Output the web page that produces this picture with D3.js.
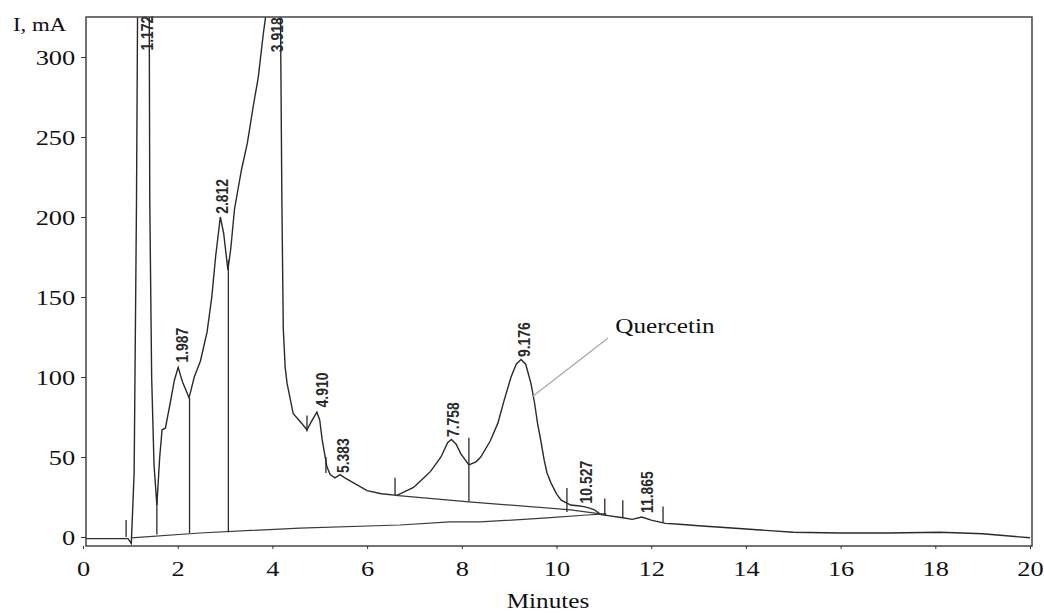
<!DOCTYPE html>
<html>
<head>
<meta charset="utf-8">
<script src="https://cdn.jsdelivr.net/npm/d3@7"></script>
<style>
  body { margin: 0; background: #fff; }
  .axis text { font-family: "Liberation Serif", "Times New Roman", serif; font-size: 22px; fill: #111; }
  .axis path { display: none; }
  .axis line { stroke: #333; }
  .peak { font-family: "Liberation Sans Narrow", "Arial Narrow", "Liberation Sans", sans-serif; font-size: 17px; font-weight: bold; fill: #2a2a2a; }
</style>
</head>
<body>
<script>
let w = 1044;
let h = 616;

// chromatogram trace: minutes, mA
let traceMin = [0, 0.5, 0.95, 1.02, 1.08, 1.13, 1.17, 1.22, 1.3, 1.39, 1.41, 1.45, 1.5, 1.56,
    1.62, 1.67, 1.74, 1.85, 1.93, 2.01, 2.1, 2.24, 2.35, 2.48, 2.62, 2.72, 2.8, 2.9, 2.97, 3.06,
    3.12, 3.2, 3.35, 3.47, 3.6, 3.7, 3.81, 3.88, 3.95, 4.1, 4.17, 4.2, 4.23, 4.27, 4.31, 4.44,
    4.59, 4.73, 4.84, 4.94, 5.0, 5.05, 5.15, 5.22, 5.32, 5.43, 5.53, 6.0, 6.3, 6.63, 6.98, 7.2,
    7.34, 7.56, 7.7, 7.78, 7.88, 7.98, 8.15, 8.3, 8.4, 8.6, 8.76, 8.9, 9.04, 9.15, 9.25, 9.35,
    9.46, 9.53, 9.6, 9.67, 9.74, 9.8, 9.88, 10.0, 10.1, 10.3, 10.45, 10.58, 10.7, 10.8, 10.94,
    11.05, 11.4, 11.6, 11.8, 12.0, 12.3, 12.6, 13.0, 13.7, 14.5, 15.0, 16.0, 17.0, 18.1, 19.0, 20.0];
let traceMa = [-1, -1, -1, -4, 40, 210, 420, 600, 600, 420, 210, 100, 45, 20,
    50, 67, 68, 85, 98, 106, 97, 87, 100, 110, 128, 150, 175, 200, 190, 167,
    180, 205, 230, 246, 270, 287, 315, 330, 420, 420, 330, 210, 130, 106, 96, 77,
    72, 67, 73, 78, 73, 61, 44, 39, 37, 39, 37, 29, 27, 26, 31, 37,
    41, 50, 59, 61, 58, 52, 45, 47, 50, 60, 71, 86, 100, 108, 111, 108,
    96, 85, 71, 60, 48, 40, 34, 27, 23, 20, 19.5, 19, 18, 17, 14,
    13.5, 12, 11, 12.5, 10.5, 8.5, 8, 7, 5.6, 4, 3, 2.5, 2.5, 3, 2, -0.5];

// integration baseline under the big early peaks
let base1Min = [1.02, 2.47, 4.58, 6.69, 7.75, 8.38, 9.8, 10.64, 11.05];
let base1Ma = [-0.6, 2.5, 5.6, 7.5, 9.4, 9.4, 11.9, 13.75, 14.4];

// integration baseline under 7.758 / 9.176
let base2Min = [6.6, 8.15, 10.3, 11.05];
let base2Ma = [26, 22, 17, 14];

// drop lines: minute, top, bottom
let dropMin = [1.56, 2.25, 3.07, 8.15];
let dropTop = [23, 87, 173, 62];
let dropBottom = [1.5, 2.5, 3, 22];

// short event marks: minute, bottom, top
let markMin = [0.91, 4.73, 5.13, 6.59, 10.22, 11.02, 11.4, 12.25];
let markBottom = [0, 66, 40, 26, 15.6, 14, 12, 9];
let markTop = [10.6, 76, 50, 37, 30.6, 24, 23, 19];

// retention time labels: text, minute, mA at label foot
let peakText = ["1.172", "1.987", "2.812", "3.918", "4.910", "5.383", "7.758", "9.176", "10.527", "11.865"];
let peakMin = [1.35, 2.09, 2.93, 4.09, 5.04, 5.49, 7.81, 9.32, 10.63, 11.92];
let peakMa = [304, 109, 202, 303, 81, 40, 62.5, 112.5, 21, 15];

let xTicks = [0, 2, 4, 6, 8, 10, 12, 14, 16, 18, 20];
let yTicks = [0, 50, 100, 150, 200, 250, 300];

let xScale = d3.scaleLinear().domain([0, 20]).range([83, 1030]);
let yScale = d3.scaleLinear().domain([0, 300]).range([537, 57]);

let box = { left: 86, right: 1032, top: 17, bottom: 546 };

let svg = d3.select("body")
    .append("svg")
    .attr("width", w)
    .attr("height", h);

svg.append("rect").attr("width", w).attr("height", h).attr("fill", "#fff");

svg.append("clipPath")
    .attr("id", "plot")
    .append("rect")
    .attr("x", box.left)
    .attr("y", box.top)
    .attr("width", box.right - box.left)
    .attr("height", box.bottom - box.top);

let line = d3.line()
    .x(d => xScale(d[0]))
    .y(d => yScale(d[1]));

let g = svg.append("g").attr("clip-path", "url(#plot)");

g.append("path")
    .datum(traceMin.map((m, i) => [m, traceMa[i]]))
    .attr("d", line)
    .attr("fill", "none")
    .attr("stroke", "#2a2a2a")
    .attr("stroke-width", 1.4);

g.append("path")
    .datum(base1Min.map((m, i) => [m, base1Ma[i]]))
    .attr("d", line)
    .attr("fill", "none")
    .attr("stroke", "#3a3a3a")
    .attr("stroke-width", 1.2);

g.append("path")
    .datum(base2Min.map((m, i) => [m, base2Ma[i]]))
    .attr("d", line)
    .attr("fill", "none")
    .attr("stroke", "#3a3a3a")
    .attr("stroke-width", 1.2);

g.selectAll(".drop")
    .data(dropMin)
    .enter()
    .append("line")
    .attr("x1", d => xScale(d))
    .attr("x2", d => xScale(d))
    .attr("y1", (d, i) => yScale(dropTop[i]))
    .attr("y2", (d, i) => yScale(dropBottom[i]))
    .attr("stroke", "#2a2a2a")
    .attr("stroke-width", 1.3);

g.selectAll(".mark")
    .data(markMin)
    .enter()
    .append("line")
    .attr("x1", d => xScale(d))
    .attr("x2", d => xScale(d))
    .attr("y1", (d, i) => yScale(markTop[i]))
    .attr("y2", (d, i) => yScale(markBottom[i]))
    .attr("stroke", "#2a2a2a")
    .attr("stroke-width", 1.3);

// peak labels, rotated and squeezed along the text
svg.selectAll(".peak")
    .data(peakText)
    .enter()
    .append("text")
    .attr("class", "peak")
    .attr("transform", (d, i) => "translate(" + (xScale(peakMin[i]) + 6) + "," + yScale(peakMa[i]) + ") rotate(-90) scale(0.82,1)")
    .text(d => d);

// frame
svg.append("rect")
    .attr("x", box.left)
    .attr("y", box.top)
    .attr("width", box.right - box.left)
    .attr("height", box.bottom - box.top)
    .attr("fill", "none")
    .attr("stroke", "#444")
    .attr("stroke-width", 1.5);

// axes
let xAxis = d3.axisBottom(xScale).tickValues(xTicks).tickSize(3).tickFormat(d3.format("d"));
let yAxis = d3.axisLeft(yScale).tickValues(yTicks).tickSize(5).tickFormat(d3.format("d"));

svg.append("g")
    .attr("class", "axis")
    .attr("transform", "translate(0," + box.bottom + ")")
    .call(xAxis)
    .selectAll("text")
    .attr("y", 14)
    .attr("transform", "scale(1.2,1)");

svg.append("g")
    .attr("class", "axis")
    .attr("transform", "translate(" + box.left + ",0)")
    .call(yAxis)
    .selectAll("text")
    .attr("x", -9)
    .attr("transform", "scale(1.2,1)");

// axis titles
svg.append("text")
    .attr("transform", "translate(13,31) scale(1.2,1)")
    .style("font-family", "'Liberation Serif', serif")
    .style("font-size", "19px")
    .style("fill", "#111")
    .text("I, mA");

svg.append("text")
    .attr("transform", "translate(548,608) scale(1.2,1)")
    .attr("text-anchor", "middle")
    .style("font-family", "'Liberation Serif', serif")
    .style("font-size", "21px")
    .style("fill", "#111")
    .text("Minutes");

// Quercetin annotation
svg.append("line")
    .attr("x1", xScale(11.09))
    .attr("y1", yScale(124.4))
    .attr("x2", xScale(9.5))
    .attr("y2", yScale(88))
    .attr("stroke", "#aaa")
    .attr("stroke-width", 1.3);

svg.append("text")
    .attr("transform", "translate(" + xScale(11.24) + "," + yScale(127.5) + ") scale(1.2,1)")
    .style("font-family", "'Liberation Serif', serif")
    .style("font-size", "21px")
    .style("fill", "#111")
    .text("Quercetin");
</script>
</body>
</html>
